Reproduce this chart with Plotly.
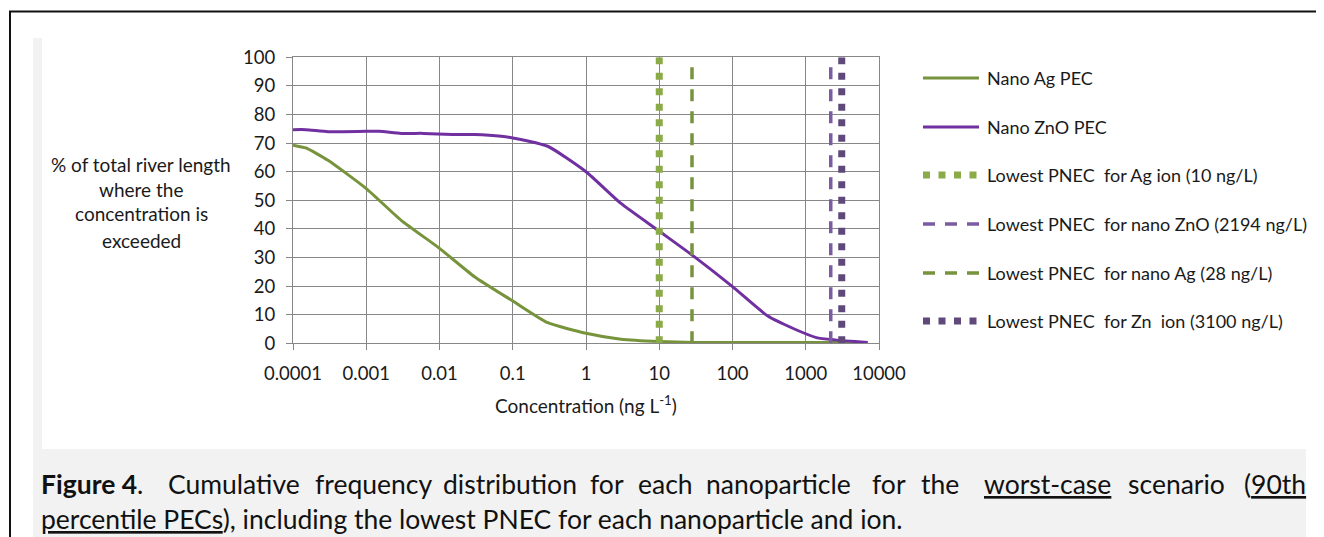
import plotly.graph_objects as go

# ---------------- data ----------------
conc_ag = [0.0001, 0.00015, 0.0003, 0.001, 0.003, 0.01, 0.03, 0.1, 0.3, 1, 3, 10, 30, 100, 1000, 7000]
ag_pec = [69.3, 68.3, 64.0, 54.1, 43.0, 33.2, 23.3, 14.8, 7.2, 3.5, 1.4, 0.6, 0.3, 0.3, 0.3, 0.3]

conc_zno = [0.0001, 0.00015, 0.0003, 0.001, 0.0015, 0.003, 0.006, 0.015, 0.03, 0.07, 0.1, 0.3,
            1, 3, 10, 30, 100, 300, 700, 1400, 2500, 7000]
zno_pec = [74.7, 74.7, 74.0, 74.1, 74.1, 73.4, 73.4, 73.0, 73.0, 72.4, 71.8, 68.9,
           60.0, 48.9, 39.2, 30.3, 19.8, 9.6, 5.0, 2.0, 1.2, 0.3]

pnec_names = ["Lowest PNEC  for Ag ion (10 ng/L)",
              "Lowest PNEC  for nano ZnO (2194 ng/L)",
              "Lowest PNEC  for nano Ag (28 ng/L)",
              "Lowest PNEC  for Zn  ion (3100 ng/L)"]
pnec_values = [10, 2194, 28, 3100]
pnec_span = [0, 100]

x_tickvals = [0.0001, 0.001, 0.01, 0.1, 1, 10, 100, 1000, 10000]
x_ticktext = ["0.0001", "0.001", "0.01", "0.1", "1", "10", "100", "1000", "10000"]
y_tickvals = [0, 10, 20, 30, 40, 50, 60, 70, 80, 90, 100]

# ---------------- style ----------------
W, H = 1324, 537
OFF = 8  # page body margin offset
FONT = "Lato, 'Open Sans', sans-serif"
TXT = "#1a1a1a"
GRID = "#878787"
GREEN = "#77933C"
GREEN_L = "#8AAB48"
PURPLE = "#7030A0"
PURPLE_M = "#7B5CA0"
PURPLE_D = "#5F497A"

def px(x):
    return (x - OFF) / W

def py(y):
    return 1 - (y - OFF) / H

DOT = "7px,8.5px"
DASH = "12px,10px"

pnec_styles = [
    dict(color=GREEN_L, width=7, dash=DOT),
    dict(color=PURPLE_M, width=3.5, dash=DASH),
    dict(color=GREEN, width=3.5, dash=DASH),
    dict(color=PURPLE_D, width=7, dash=DOT),
]

fig = go.Figure()
fig.add_trace(go.Scatter(x=conc_ag, y=ag_pec, mode="lines", name="Nano Ag PEC",
                         line=dict(color=GREEN, width=3, shape="spline", smoothing=0.5)))
fig.add_trace(go.Scatter(x=conc_zno, y=zno_pec, mode="lines", name="Nano ZnO PEC",
                         line=dict(color=PURPLE, width=3, shape="spline", smoothing=0.5)))
for name, val, st in zip(pnec_names, pnec_values, pnec_styles):
    fig.add_trace(go.Scatter(x=[val, val], y=pnec_span, mode="lines", name=name, line=st))

axis_common = dict(showgrid=True, gridcolor=GRID, gridwidth=1, showline=True, linecolor=GRID,
                   linewidth=1, mirror=True, ticks="outside", ticklen=6, tickcolor=GRID,
                   zeroline=False, automargin=False,
                   tickfont=dict(family=FONT, size=18.5, color=TXT))

x0, x1 = 293, 879
y0, y1 = 343.3, 57.3
fig.update_layout(
    template="none",
    width=W, height=H, margin=dict(l=0, r=0, t=0, b=0, pad=0, autoexpand=False),
    paper_bgcolor="white", plot_bgcolor="white", showlegend=False,
    xaxis=dict(type="log", range=[-4, 4], tickvals=x_tickvals, ticktext=x_ticktext,
               domain=[px(x0), px(x1)], ticklabelstandoff=7, **axis_common),
    yaxis=dict(range=[0, 100], tickvals=y_tickvals, domain=[py(y0), py(y1)],
               ticklabelstandoff=7, **axis_common),
)

shapes = []
# page background pieces
shapes.append(dict(type="rect", xref="paper", yref="paper", x0=px(33), x1=px(42), y0=py(449), y1=py(38),
                   fillcolor="#F2F2F2", line=dict(width=0), layer="below"))
shapes.append(dict(type="rect", xref="paper", yref="paper", x0=px(33), x1=px(1306), y0=py(545), y1=py(449),
                   fillcolor="#F2F2F2", line=dict(width=0), layer="below"))
shapes.append(dict(type="line", xref="paper", yref="paper", x0=px(9), x1=px(1332), y0=py(11.5), y1=py(11.5),
                   line=dict(color="#111111", width=2)))
shapes.append(dict(type="line", xref="paper", yref="paper", x0=px(10), x1=px(10), y0=py(11), y1=py(545),
                   line=dict(color="#111111", width=2)))

annotations = []
# legend
leg_names = ["Nano Ag PEC", "Nano ZnO PEC"] + pnec_names
leg_styles = [dict(color=GREEN, width=3), dict(color=PURPLE, width=3)] + pnec_styles
leg_y = [78, 127, 175, 224, 273, 321]
for nm, st, yy in zip(leg_names, leg_styles, leg_y):
    shapes.append(dict(type="line", xref="paper", yref="paper", x0=px(923), x1=px(979),
                       y0=py(yy), y1=py(yy), line=st))
    annotations.append(dict(x=px(985), y=py(yy), xref="paper", yref="paper", text=nm, showarrow=False,
                            xanchor="left", yanchor="middle", font=dict(family=FONT, size=18, color=TXT)))

# y-axis title lines
for t, yy in zip(["% of total river length", "where the", "concentration is", "exceeded"],
                 [164, 189, 214, 240]):
    annotations.append(dict(x=px(141), y=py(yy), xref="paper", yref="paper", text=t, showarrow=False,
                            xanchor="center", yanchor="middle", font=dict(family=FONT, size=19, color=TXT)))

# x-axis title
annotations.append(dict(x=px(586), y=py(404), xref="paper", yref="paper",
                        text="Concentration (ng L<sup>-1</sup>)", showarrow=False,
                        xanchor="center", yanchor="middle", font=dict(family=FONT, size=19, color=TXT)))

# caption, line 1 (justified -> word positions)
CAP = 26.5
cap1 = [("<b>Figure 4</b>.", 39), ("Cumulative", 166), ("frequency", 313), ("distribution", 441),
        ("for", 588), ("each", 636), ("nanoparticle", 704), ("for", 870), ("the", 919),
        ("<u>worst-case</u>", 982), ("scenario", 1126), ("(<u>90th</u>", 1242)]
for t, xx in cap1:
    annotations.append(dict(x=px(xx), y=py(484), xref="paper", yref="paper", text=t, showarrow=False,
                            xanchor="left", yanchor="middle", font=dict(family=FONT, size=CAP, color="#111111")))
annotations.append(dict(x=px(39), y=py(519), xref="paper", yref="paper",
                        text="<u>percentile PECs</u>), including the lowest PNEC for each nanoparticle and ion.",
                        showarrow=False, xanchor="left", yanchor="middle",
                        font=dict(family=FONT, size=CAP, color="#111111")))

fig.update_layout(shapes=shapes, annotations=annotations)
fig.write_html("out.html")
